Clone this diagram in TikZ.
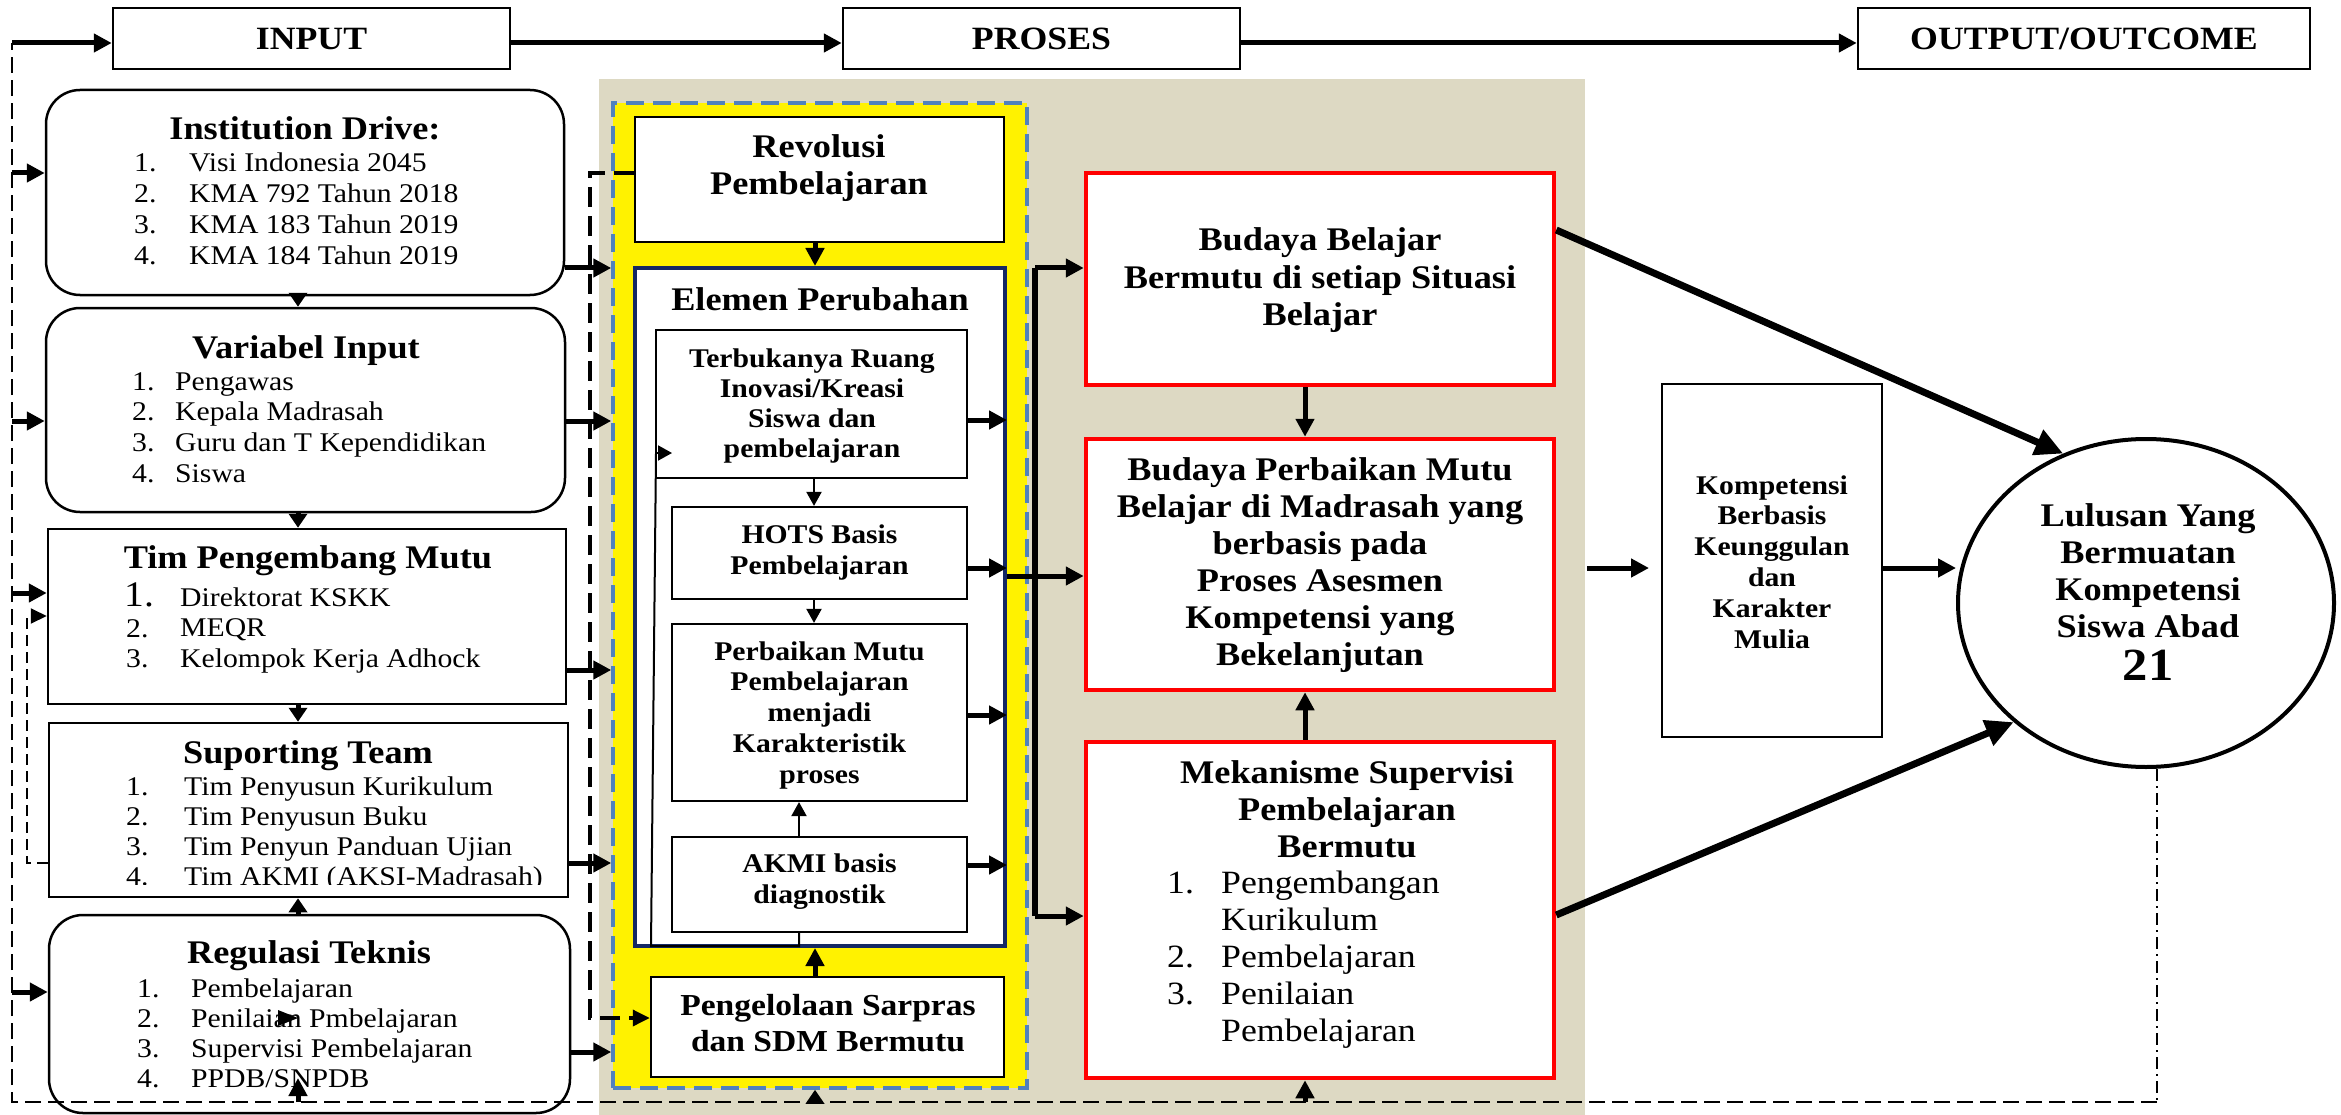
\documentclass[tikz,border=0pt]{standalone}
\usepackage{fontspec}
\setmainfont{Liberation Serif}[FakeStretch=1.1]
\usetikzlibrary{arrows.meta,shapes.geometric,fit,calc}
\definecolor{tanbg}{RGB}{221,217,195}
\definecolor{bluedash}{RGB}{79,129,189}
\definecolor{navyb}{RGB}{20,40,100}
\newcommand\clines[6]{\foreach \mytxt [count=\myi from 0] in {#6}{\node[#1] (#2\myi) at (#3,{#4+\myi*#5}) {\mytxt};}}
\newcommand\nlines[7]{\foreach \mytxt [count=\myi from 1] in {#7}{\node[#1] (#2n\myi) at (#3,{#5+(\myi-1)*#6}) {\myi.};\node[#1] (#2\myi) at (#4,{#5+(\myi-1)*#6}) {\mytxt};}}
\begin{document}
\begin{tikzpicture}[x=1pt,y=-1pt,
  bx/.style={draw, line width=2.5pt, inner sep=0pt, fill=white},
  rbx/.style={bx, rounded corners=34pt},
  redbx/.style={draw=red, line width=4.5pt, fill=white, inner sep=0pt},
  ttl/.style={font=\fontsize{33}{37}\selectfont\bfseries, anchor=base, inner sep=0pt},
  hdr/.style={font=\fontsize{32.5}{36}\selectfont\bfseries, anchor=base, inner sep=0pt},
  itm/.style={font=\fontsize{27}{31}\selectfont, anchor=base west, inner sep=0pt},
  mitm/.style={font=\fontsize{32.5}{37}\selectfont, anchor=base west, inner sep=0pt},
  sub/.style={font=\fontsize{27}{31}\selectfont\bfseries, anchor=base, inner sep=0pt},
  subp/.style={font=\fontsize{30.5}{35}\selectfont\bfseries, anchor=base, inner sep=0pt},
  arr/.style={line width=5pt, -{Triangle[length=18pt,width=18pt]}},
  sarr/.style={line width=5pt, -{Triangle[length=14pt,width=18pt]}},
  tarr/.style={line width=2pt, -{Triangle[length=14pt,width=15pt]}},
  barr/.style={line width=7pt, -{Triangle[length=28pt,width=26pt]}},
  ldash/.style={line width=2pt, dash pattern=on 16pt off 7pt},
  ddot/.style={line width=2.5pt, dash pattern=on 12pt off 5pt on 2pt off 5pt},
  tdash/.style={line width=3.5pt, dash pattern=on 20pt off 9pt, -{Triangle[length=17pt,width=16pt]}},
  sdash/.style={line width=2pt, dash pattern=on 11pt off 6pt, -{Triangle[length=16pt,width=15pt]}}
]
\useasboundingbox (0,0) rectangle (2341,1115);
\fill[white] (0,0) rectangle (2341,1115);
% backgrounds
\node[fit={(599,79) (1585,1115)}, inner sep=0pt, fill=tanbg] (tanarea) {};
\node[fit={(613,103) (1027,1088)}, inner sep=0pt, fill=yellow, draw=bluedash, line width=3.5pt, dash pattern=on 18pt off 9pt] (yel) {};
% headers
\node[bx, fit={(113,8) (510,69)}] (inputh) {};
\node[bx, fit={(843,8) (1240,69)}] (prosesh) {};
\node[bx, fit={(1858,8) (2310,69)}] (outputh) {};
\node[hdr] (inputt) at (311.5,50) {INPUT};
\node[hdr] (prosest) at (1041.5,50) {PROSES};
\node[hdr] (outputt) at (2084,50) {OUTPUT/OUTCOME};
% left boxes
\node[rbx, fit={(46,90) (564,295)}] (inst) {};
\node[rbx, fit={(46,308) (565,512)}] (var) {};
\node[bx, fit={(48,529) (566,704)}] (tim) {};
\node[bx, fit={(49,723) (568,897)}] (sup) {};
\node[rbx, fit={(49,915) (570,1113)}] (reg) {};
\node[ttl] (inst-t) at (305,140) {Institution Drive:};
\nlines{itm}{inst-}{134}{189}{172}{31}{Visi Indonesia 2045,KMA 792 Tahun 2018,KMA 183 Tahun 2019,KMA 184 Tahun 2019}
\node[ttl] (var-t) at (306,358) {Variabel Input};
\nlines{itm}{var-}{132}{175}{390}{30.7}{Pengawas,Kepala Madrasah,Guru dan T Kependidikan,Siswa}
\node[ttl] (tim-t) at (308,568) {Tim Pengembang Mutu};
\node[itm, font=\fontsize{36}{40}\selectfont] (tim-n1) at (124,606) {1.};
\node[itm] (tim-n2) at (126,637) {2.};
\node[itm] (tim-n3) at (126,667) {3.};
\clines{itm}{tim-}{180}{606}{30.5}{Direktorat KSKK,MEQR,Kelompok Kerja Adhock}
\node[ttl] (sup-t) at (308,763) {Suporting Team};
\begin{scope}
\clip (0,700) rectangle (600,884);
\nlines{itm}{sup-}{126}{184}{795}{30.3}{Tim Penyusun Kurikulum,Tim Penyusun Buku,Tim Penyun Panduan Ujian,Tim AKMI (AKSI-Madrasah)}
\end{scope}
\node[ttl] (reg-t) at (309,963) {Regulasi Teknis};
\nlines{itm}{reg-}{137}{191}{997}{30.3}{Pembelajaran,Penilaian Pmbelajaran,Supervisi Pembelajaran,PPDB/SNPDB}
% inner process boxes
\node[bx, fit={(635,117) (1004,242)}] (revol) {};
\node[draw=navyb, line width=4pt, fill=white, inner sep=0pt, fit={(635,268) (1005,946)}] (elemen) {};
\node[bx, line width=2.2pt, fit={(656,330) (967,478)}] (terb) {};
\node[bx, line width=2.2pt, fit={(672,507) (967,599)}] (hots) {};
\node[bx, line width=2.2pt, fit={(672,624) (967,801)}] (perb) {};
\node[bx, line width=2.2pt, fit={(672,837) (967,932)}] (akmi) {};
\node[bx, fit={(651,977) (1004,1077)}] (peng) {};
\clines{ttl}{revol-}{819}{158}{37}{Revolusi,Pembelajaran}
\node[ttl] (elemen-t) at (820,310) {Elemen Perubahan};
\clines{sub}{terb-}{812}{367}{30.3}{Terbukanya Ruang,Inovasi/Kreasi,Siswa dan,pembelajaran}
\clines{sub}{hots-}{819.5}{543}{31}{HOTS Basis,Pembelajaran}
\clines{sub}{perb-}{819.5}{660}{30.75}{Perbaikan Mutu,Pembelajaran,menjadi,Karakteristik,proses}
\clines{sub}{akmi-}{819.5}{872}{31}{AKMI basis,diagnostik}
\clines{subp}{peng-}{828}{1015}{36}{Pengelolaan Sarpras,dan SDM Bermutu}
% red boxes
\node[redbx, fit={(1086,173) (1554,385)}] (budB) {};
\node[redbx, fit={(1086,439) (1554,690)}] (budP) {};
\node[redbx, fit={(1086,742) (1554,1078)}] (mek) {};
\clines{ttl}{budB-}{1320}{251}{37}{Budaya Belajar,Bermutu di setiap Situasi,Belajar}
\clines{ttl}{budP-}{1320}{480}{37}{Budaya Perbaikan Mutu,Belajar di Madrasah yang,berbasis pada,Proses Asesmen,Kompetensi yang,Bekelanjutan}
\clines{ttl}{mek-}{1347}{783}{37}{Mekanisme Supervisi,Pembelajaran,Bermutu}
\clines{mitm}{mek-i}{1221}{893}{37}{Pengembangan,Kurikulum,Pembelajaran,Penilaian,Pembelajaran}
\node[mitm] (mek-n1) at (1167,893) {1.};
\node[mitm] (mek-n2) at (1167,967) {2.};
\node[mitm] (mek-n3) at (1167,1004) {3.};
% output side
\node[bx, fit={(1662,384) (1882,737)}] (komp) {};
\clines{sub}{komp-}{1772}{494}{30.8}{Kompetensi,Berbasis,Keunggulan,dan,Karakter,Mulia}
\node[draw, ellipse, line width=4pt, fill=white, minimum width=376pt, minimum height=328pt, inner sep=0pt] (circ) at (2146,603) {};
\clines{ttl}{circ-}{2148}{526}{37}{Lulusan Yang,Bermuatan,Kompetensi,Siswa Abad}
\node[ttl, font=\fontsize{46}{50}\selectfont\bfseries] (circ-4) at (2148,680) {21};
% named coordinates
\coordinate (ctl) at (12,43);
\coordinate (cbl) at (12,1102);
\coordinate (cbr) at (2157,1102);
\coordinate (colA) at (298,0);
\coordinate (colB) at (815,0);
\coordinate (colC) at (814,0);
\coordinate (colD) at (799,0);
\coordinate (colE) at (1305,0);
\coordinate (colF) at (590,0);
\coordinate (colG) at (1035,0);
\coordinate (colH) at (27,0);
\coordinate (rIn1) at (0,173);
\coordinate (rIn2) at (0,421);
\coordinate (rIn3) at (0,593);
\coordinate (rIn4) at (0,992);
\coordinate (rDs) at (0,616);
\coordinate (rSup) at (0,863);
\coordinate (rOut1) at (0,268);
\coordinate (rOut2) at (0,421);
\coordinate (rOut3) at (0,670);
\coordinate (rOut4) at (0,863);
\coordinate (rOut5) at (0,1052);
\coordinate (rRev) at (0,173);
\coordinate (rPeng) at (0,1018);
\coordinate (rT) at (0,420);
\coordinate (rH) at (0,568);
\coordinate (rP) at (0,715);
\coordinate (rA) at (0,865);
\coordinate (rV1) at (0,268);
\coordinate (rV2) at (0,576);
\coordinate (rV3) at (0,916);
\coordinate (rB1) at (0,230);
\coordinate (rM) at (0,915);
\coordinate (kS) at (1587,568);
\coordinate (kE) at (1649,568);
\coordinate (regin) at (298,1078);
\coordinate (lpA) at (799,946);
\coordinate (lpB) at (651,946);
\coordinate (lpC) at (656,453);
\coordinate (lpD) at (672,453);
% dashed lines
\draw[tdash] (revol.west |- rRev) -- (colF |- rRev) -- (colF |- rPeng) -- (peng.west |- rPeng);
\draw[sdash] (sup.west |- rSup) -- (colH |- rSup) -- (colH |- rDs) -- (tim.west |- rDs);
\draw[ddot] (circ.south -| cbr) -- (cbr);
\draw[ldash] (cbr) -- (cbl) -- (ctl);
% header arrows
\draw[arr] (ctl) -- (inputh.west |- ctl);
\draw[arr] (inputh.east |- ctl) -- (prosesh.west |- ctl);
\draw[arr] (prosesh.east |- ctl) -- (outputh.west |- ctl);
% left column
\foreach \nm/\rr in {inst/rIn1,var/rIn2,tim/rIn3,reg/rIn4} \draw[arr] (ctl |- \rr) -- (\nm.west |- \rr);
\foreach \nm/\rr in {inst/rOut1,var/rOut2,tim/rOut3,sup/rOut4,reg/rOut5} \draw[arr] (\nm.east |- \rr) -- (yel.west |- \rr);
\draw[sarr] (inst.south -| colA) -- (var.north -| colA);
\draw[sarr] (var.south -| colA) -- (tim.north -| colA);
\draw[sarr] (tim.south -| colA) -- (sup.north -| colA);
\draw[sarr] (reg.north -| colA) -- (sup.south -| colA);
\fill (278,1010) -- (298,1018) -- (278,1026) -- cycle;
% bottom up arrows
\draw[arr] (cbl -| colA) -- (regin);
\draw[sarr] (cbl -| colB) -- (yel.south -| colB);
\draw[arr] (cbl -| colE) -- (mek.south -| colE);
% inner process
\draw[arr] (revol.south -| colB) -- (elemen.north -| colB);
\draw[tarr] (terb.south -| colC) -- (hots.north -| colC);
\draw[tarr] (hots.south -| colC) -- (perb.north -| colC);
\draw[tarr] (akmi.north -| colD) -- (perb.south -| colD);
\draw[arr] (peng.north -| colB) -- (elemen.south -| colB);
\foreach \nm/\rr in {terb/rT,hots/rH,perb/rP,akmi/rA} \draw[arr] (\nm.east |- \rr) -- (elemen.east |- \rr);
\draw[line width=2pt] (akmi.south -| lpA) -- (lpA) -- (lpB) -- (lpC);
\draw[tarr] (lpC) -- (lpD);
% right side
\draw[line width=6pt] (colG |- rV1) -- (colG |- rV3);
\draw[arr] (colG |- rV1) -- (budB.west |- rV1);
\draw[arr] (colG |- rV3) -- (mek.west |- rV3);
\draw[arr] (elemen.east |- rV2) -- (budP.west |- rV2);
\draw[arr] (budB.south -| colE) -- (budP.north -| colE);
\draw[arr] (mek.north -| colE) -- (budP.south -| colE);
\draw[arr] (kS) -- (kE);
\draw[arr] (komp.east |- kS) -- (circ.west |- kS);
\draw[barr] (budB.east |- rB1) -- (circ.119);
\draw[barr] (mek.east |- rM) -- (circ.222);
\end{tikzpicture}
\end{document}
